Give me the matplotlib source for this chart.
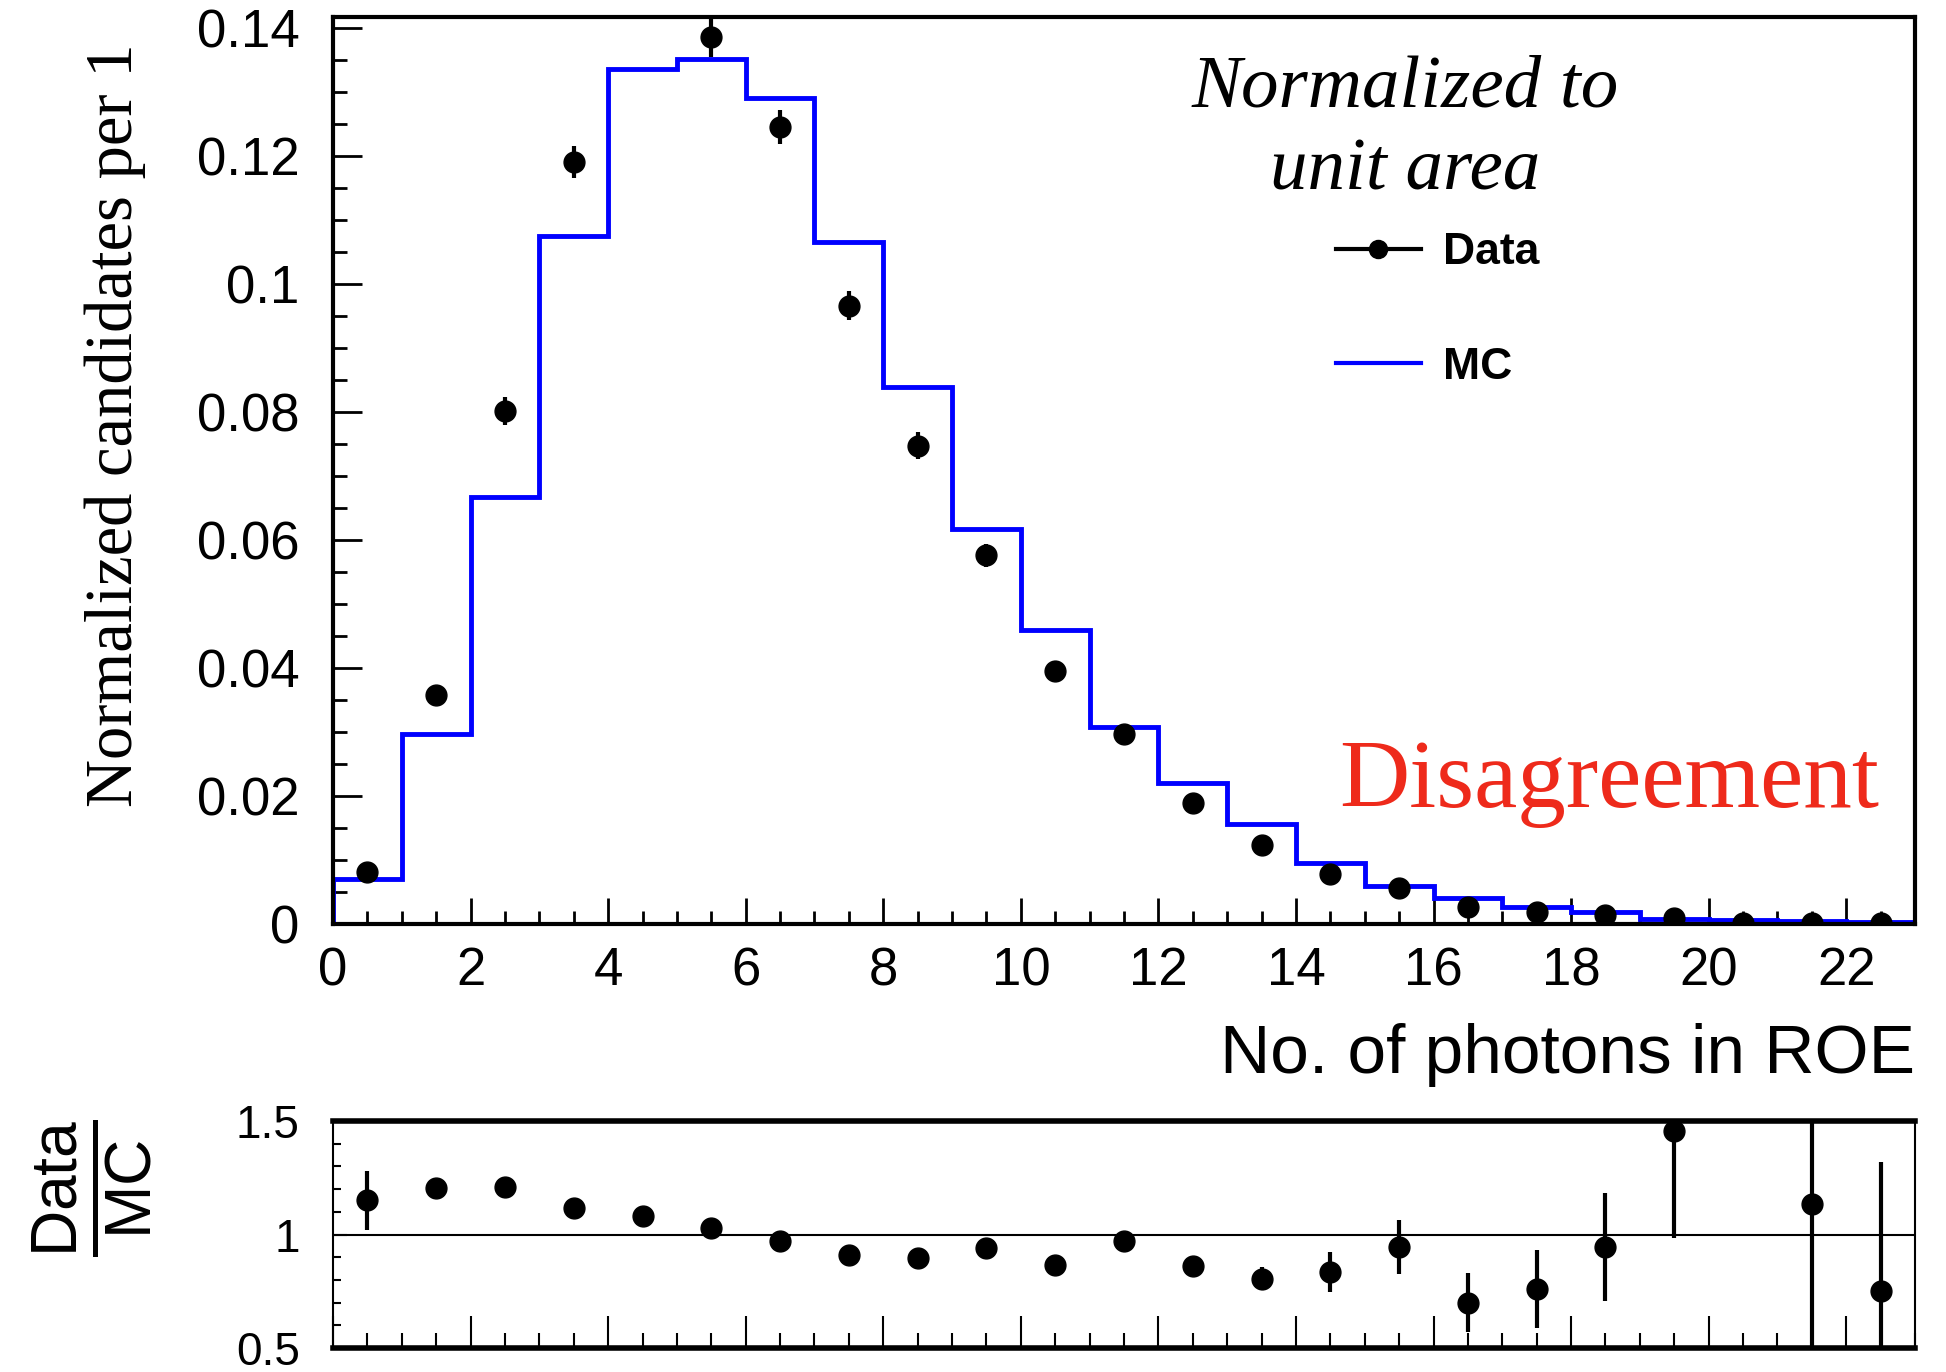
import numpy as np
import matplotlib.pyplot as plt
from matplotlib.lines import Line2D
from matplotlib.ticker import MultipleLocator

plt.rcParams['font.family'] = 'Liberation Sans'
plt.rcParams['mathtext.fontset'] = 'custom'
plt.rcParams['mathtext.rm'] = 'Liberation Sans'

# --- data ---
bin_edges = np.arange(0, 24, 1)
bin_centers = bin_edges[:-1] + 0.5

mc_frac = [0.0070, 0.0297, 0.0667, 0.1075, 0.1335, 0.1351, 0.1290, 0.1065,
           0.0839, 0.0617, 0.0459, 0.0308, 0.0220, 0.0156, 0.0096, 0.0060,
           0.0041, 0.0027, 0.0018, 0.0008, 0.0006, 0.0004, 0.0003]

data_frac = [0.0082, 0.0357, 0.0802, 0.1190, 0.1446, 0.1385, 0.1245, 0.0966,
             0.0747, 0.0576, 0.0396, 0.0297, 0.0189, 0.0123, 0.0078, 0.0057,
             0.0027, 0.0018, 0.0014, 0.0010, 0.0002, 0.0002, 0.0002]
data_err = [0.0007, 0.0013, 0.0022, 0.0025, 0.0028, 0.0030, 0.0026, 0.0023,
            0.0021, 0.0018, 0.0015, 0.0013, 0.0010, 0.0008, 0.0006, 0.0005,
            0.0004, 0.0003, 0.0003, 0.0002, 0.0001, 0.0001, 0.0001]

ratio = [1.15, 1.205, 1.21, 1.117, 1.083, 1.03, 0.97, 0.91, 0.895, 0.94,
         0.865, 0.97, 0.86, 0.805, 0.835, 0.945, 0.70, 0.76, 0.945, 1.455,
         np.nan, 1.133, 0.75]
ratio_err = [0.13, 0.04, 0.02, 0.02, 0.02, 0.02, 0.02, 0.02, 0.02, 0.02,
             0.03, 0.03, 0.04, 0.05, 0.09, 0.12, 0.13, 0.17, 0.24, 0.47,
             np.nan, 0.75, 0.57]

W, H = 1946, 1372
fig = plt.figure(figsize=(W / 100, H / 100), dpi=100)
ax = fig.add_axes([333 / W, 1 - 924 / H, 1582 / W, 907 / H])
rax = fig.add_axes([333 / W, 1 - 1348 / H, 1582 / W, 227 / H])

# --- main panel ---
ax.stairs(mc_frac, bin_edges, color='#0000ff', lw=3.5, label='MC', zorder=2)
ax.errorbar(bin_centers, data_frac, yerr=data_err, fmt='o', color='black',
            ms=15, elinewidth=3, capsize=0, zorder=3)
ax.set_xlim(0, 23)
ax.set_ylim(0, 0.1417)
ax.xaxis.set_major_locator(MultipleLocator(2))
ax.xaxis.set_minor_locator(MultipleLocator(0.5))
ax.yaxis.set_minor_locator(MultipleLocator(0.005))
ax.set_yticks(np.arange(0, 0.141, 0.02))
ax.set_yticklabels(['0', '0.02', '0.04', '0.06', '0.08', '0.1', '0.12', '0.14'])
ax.tick_params(which='both', direction='in', top=False, right=False,
               labelsize=38, width=2)
ax.tick_params(axis='x', which='major', length=19, pad=16)
ax.tick_params(axis='x', which='minor', length=9.5)
ax.tick_params(axis='y', which='major', length=21, pad=24)
ax.tick_params(axis='y', which='minor', length=10)
for s in ax.spines.values():
    s.set_linewidth(3)

ax.text(0.678, 0.921, 'Normalized to', transform=ax.transAxes, ha='center',
        va='center', fontsize=54, family='Liberation Serif', style='italic')
ax.text(0.678, 0.829, 'unit area', transform=ax.transAxes, ha='center',
        va='center', fontsize=54, family='Liberation Serif', style='italic')
ax.text(0.807, 0.155, 'Disagreement', transform=ax.transAxes, ha='center',
        va='center', fontsize=70, family='Liberation Serif', color='#ee2a1b')

handles = [Line2D([], [], color='black', lw=3, marker='o', ms=13),
           Line2D([], [], color='#0000ff', lw=3)]
ax.legend(handles, ['Data', 'MC'], loc='upper left',
          bbox_to_anchor=(0.62, 0.787), frameon=False, handlelength=1.9,
          handletextpad=0.5, labelspacing=1.65, borderpad=0,
          prop={'family': 'Liberation Sans', 'weight': 'bold', 'size': 32})

fig.text(115 / W, 1 - 425 / H, 'Normalized candidates per 1', rotation=90,
         ha='center', va='center', fontsize=48, family='Liberation Serif')
fig.text(1915 / W, 1 - 1055 / H, 'No. of photons in ROE', ha='right',
         va='center', fontsize=50)

# --- ratio panel ---
rax.axhline(1.0, color='black', lw=1.5, zorder=1)
rax.errorbar(bin_centers, ratio, yerr=ratio_err, fmt='o', color='black',
             ms=15, elinewidth=3, capsize=0, zorder=3)
rax.set_xlim(0, 23)
rax.set_ylim(0.5, 1.5)
rax.xaxis.set_major_locator(MultipleLocator(2))
rax.xaxis.set_minor_locator(MultipleLocator(0.5))
rax.yaxis.set_minor_locator(MultipleLocator(0.1))
rax.set_yticks([0.5, 1.0, 1.5])
rax.set_yticklabels(['0.5', '1', '1.5'])
rax.tick_params(which='both', direction='in', top=False, right=False,
                labelbottom=False, labelsize=33, width=1.5)
rax.tick_params(axis='x', which='major', length=23)
rax.tick_params(axis='x', which='minor', length=11)
rax.tick_params(axis='y', which='major', length=10, pad=24)
rax.tick_params(axis='y', which='minor', length=6)
rax.spines['top'].set_linewidth(4)
rax.spines['bottom'].set_linewidth(4)
rax.spines['left'].set_linewidth(1.5)
rax.spines['right'].set_linewidth(1.5)

fig.text(93 / W, 1 - 1188 / H, r'$\frac{\mathrm{Data}}{\mathrm{MC}}$',
         rotation=90, ha='center', va='center', fontsize=66)

fig.savefig('out.png', dpi=100)
